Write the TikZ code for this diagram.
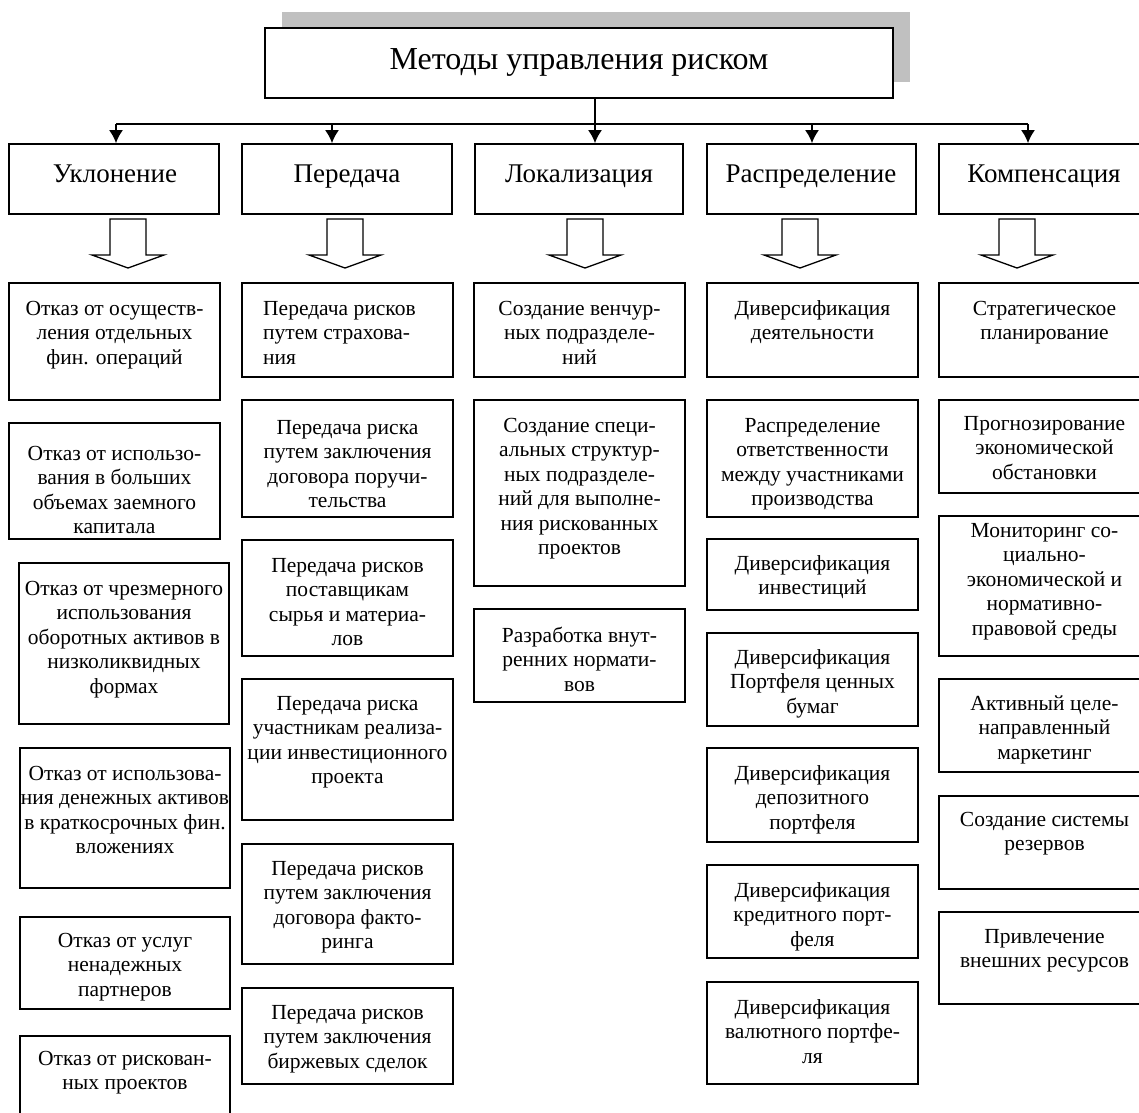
\documentclass[tikz,border=0pt]{standalone}
\usepackage{fontspec}
\setmainfont{Liberation Serif}
\usetikzlibrary{fit,arrows.meta}
\definecolor{shadowgray}{RGB}{192,192,192}
\newcommand\lbox[8][center]{%
  \node[box, fit={(#3,#4) (#5,#6)}] (#2) {};
  \node[lt, align=#1] (#2-t) at ({(#3+#5)/2}, #7) {\strut #8};
}
\newcommand\blockarrow[2]{%
  \draw[blk] (#2-18,219) -- (#2+18,219) -- (#2+18,255) -- (#2+36,255) -- (#2,268) -- (#2-36,255) -- (#2-18,255) -- cycle;
}
\begin{document}
\begin{tikzpicture}[x=1pt,y=-1pt,
  box/.style={draw, line width=1.6pt, inner sep=0pt, fill=white},
  lt/.style={font=\fontsize{21.5}{24.5}\selectfont, anchor=north, inner sep=0pt},
  cattext/.style={font=\fontsize{27}{30}\selectfont, anchor=base, inner sep=0pt},
  conn/.style={line width=2pt},
  arr/.style={line width=2pt, -{Latex[length=13pt,width=14pt]}},
  blk/.style={draw, line width=1.3pt, fill=white, line join=miter}]
\useasboundingbox (0,0) rectangle (1139,1112);
\clip (0,0) rectangle (1139,1112);
\fill[white] (0,0) rectangle (1139,1112);
% title with shadow
\fill[shadowgray] (282,12) rectangle (910,82);
\node[box, fit={(265,28) (893,98)}] (title) {};
\node[font=\fontsize{32}{36}\selectfont, anchor=base, inner sep=0pt] (title-t) at (579,69) {Методы управления риском};
% categories
\node[box, fit={(9,144) (219,214)}] (cat1) {};
\node[box, fit={(242,144) (452,214)}] (cat2) {};
\node[box, fit={(475,144) (683,214)}] (cat3) {};
\node[box, fit={(707,144) (916,214)}] (cat4) {};
\node[box, fit={(939,144) (1150,214)}] (cat5) {};
\node[cattext] (cat1-t) at (115,182) {Уклонение};
\node[cattext] (cat2-t) at (347,182) {Передача};
\node[cattext] (cat3-t) at (579,182) {Локализация};
\node[cattext] (cat4-t) at (811,182) {Распределение};
\node[cattext] (cat5-t) at (1044,182) {Компенсация};
% connectors
\coordinate (j1) at (116,124);
\coordinate (j2) at (332,124);
\coordinate (j3) at (595,124);
\coordinate (j4) at (812,124);
\coordinate (j5) at (1028,124);
\draw[conn] (title.south -| j3) -- (j3);
\draw[conn] (j1) -- (j5);
\foreach \i in {1,...,5} {\draw[arr] (j\i) -- (j\i |- cat\i.north);}
% block arrows
\blockarrow{a1}{128}
\blockarrow{a2}{345}
\blockarrow{a3}{585}
\blockarrow{a4}{800}
\blockarrow{a5}{1017}
% column 1
\lbox{u1}{9}{283}{220}{400}{298}{Отказ от осуществ-\\ления отдельных\\фин. операций}
\lbox{u2}{9}{423}{220}{539}{443}{Отказ от использо-\\вания в больших\\объемах заемного\\капитала}
\lbox{u3}{19}{563}{229}{724}{578}{Отказ от чрезмерного\\использования\\оборотных активов в\\низколиквидных\\формах}
\lbox{u4}{20}{748}{230}{888}{763}{Отказ от использова-\\ния денежных активов\\в краткосрочных фин.\\вложениях}
\lbox{u5}{20}{917}{230}{1009}{930}{Отказ от услуг\\ненадежных\\партнеров}
\lbox{u6}{20}{1036}{230}{1130}{1048}{Отказ от рискован-\\ных проектов}
% column 2
\node[box, fit={(242,283) (453,377)}] (p1) {};
\node[lt, align=left, anchor=north west] (p1-t) at (263,298) {\strut Передача рисков\\путем страхова-\\ния};
\lbox{p2}{242}{400}{453}{517}{417}{Передача риска\\путем заключения\\договора поручи-\\тельства}
\lbox{p3}{242}{540}{453}{656}{555}{Передача рисков\\поставщикам\\сырья и материа-\\лов}
\lbox{p4}{242}{679}{453}{820}{693}{Передача риска\\участникам реализа-\\ции инвестиционного\\проекта}
\lbox{p5}{242}{844}{453}{964}{858}{Передача рисков\\путем заключения\\договора факто-\\ринга}
\lbox{p6}{242}{988}{453}{1084}{1002}{Передача рисков\\путем заключения\\биржевых сделок}
% column 3
\lbox{l1}{474}{283}{685}{377}{298}{Создание венчур-\\ных подразделе-\\ний}
\lbox{l2}{474}{400}{685}{586}{415}{Создание специ-\\альных структур-\\ных подразделе-\\ний для выполне-\\ния рискованных\\проектов}
\lbox{l3}{474}{609}{685}{702}{625}{Разработка внут-\\ренних нормати-\\вов}
% column 4
\lbox{r1}{707}{283}{918}{377}{298}{Диверсификация\\деятельности}
\lbox{r2}{707}{400}{918}{517}{415}{Распределение\\ответственности\\между участниками\\производства}
\lbox{r3}{707}{539}{918}{610}{553}{Диверсификация\\инвестиций}
\lbox{r4}{707}{633}{918}{726}{647}{Диверсификация\\Портфеля ценных\\бумаг}
\lbox{r5}{707}{748}{918}{842}{763}{Диверсификация\\депозитного\\портфеля}
\lbox{r6}{707}{865}{918}{958}{880}{Диверсификация\\кредитного порт-\\феля}
\lbox{r7}{707}{982}{918}{1084}{997}{Диверсификация\\валютного портфе-\\ля}
% column 5
\lbox{k1}{939}{283}{1150}{377}{298}{Стратегическое\\планирование}
\lbox{k2}{939}{400}{1150}{493}{413}{Прогнозирование\\экономической\\обстановки}
\lbox{k3}{939}{516}{1150}{656}{520}{Мониторинг со-\\циально-\\экономической и\\нормативно-\\правовой среды}
\lbox{k4}{939}{679}{1150}{772}{693}{Активный целе-\\направленный\\маркетинг}
\lbox{k5}{939}{796}{1150}{889}{809}{Создание системы\\резервов}
\lbox{k6}{939}{912}{1150}{1004}{926}{Привлечение\\внешних ресурсов}
\end{tikzpicture}
\end{document}
